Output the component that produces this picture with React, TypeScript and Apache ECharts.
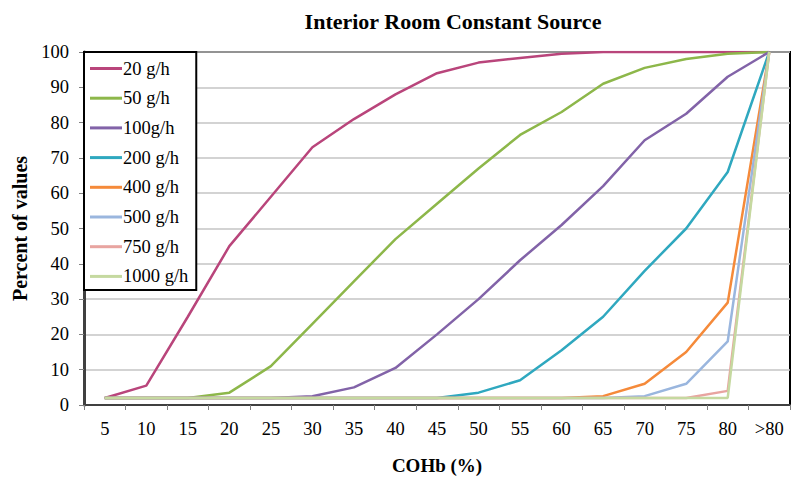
import React, { useEffect, useRef } from "react";
import * as echarts from "echarts";

const categories = ["5", "10", "15", "20", "25", "30", "35", "40", "45", "50", "55", "60", "65", "70", "75", "80", ">80"];
const seriesNames = ["20 g/h", "50 g/h", "100g/h", "200 g/h", "400 g/h", "500 g/h", "750 g/h", "1000 g/h"];
const colors = ["#B9457B", "#8DB74A", "#8263A8", "#2FA8BF", "#F58A3A", "#9AB6DE", "#E8A4A0", "#C5D9A0"];

const s20 = [2, 5.5, 25, 45, 59, 73, 81, 88, 94, 97, 98.3, 99.5, 100, 100, 100, 100, 100];
const s50 = [2, 2, 2, 3.5, 11, 23, 35, 47, 57, 67, 76.5, 83, 91, 95.5, 98, 99.5, 100];
const s100 = [2, 2, 2, 2, 2, 2.5, 5, 10.5, 20, 30, 41, 51, 62, 75, 82.5, 93, 100];
const s200 = [2, 2, 2, 2, 2, 2, 2, 2, 2, 3.5, 7, 15.5, 25, 38, 50, 66, 100];
const s400 = [2, 2, 2, 2, 2, 2, 2, 2, 2, 2, 2, 2, 2.5, 6, 15, 29, 100];
const s500 = [2, 2, 2, 2, 2, 2, 2, 2, 2, 2, 2, 2, 2, 2.5, 6, 18, 100];
const s750 = [2, 2, 2, 2, 2, 2, 2, 2, 2, 2, 2, 2, 2, 2, 2, 4, 100];
const s1000 = [2, 2, 2, 2, 2, 2, 2, 2, 2, 2, 2, 2, 2, 2, 2, 2, 100];
const allSeries = [s20, s50, s100, s200, s400, s500, s750, s1000];

const FONT = "Liberation Serif";

export default function App() {
  const ref = useRef<HTMLDivElement>(null);
  useEffect(() => {
    if (!ref.current) return;
    const chart = echarts.init(ref.current, null, { renderer: "svg" });
    chart.setOption({
      animation: false,
      backgroundColor: "#ffffff",
      title: {
        text: "Interior Room Constant Source",
        left: 448,
        textAlign: "center",
        top: 5,
        textStyle: { fontFamily: FONT, fontSize: 22, fontWeight: "bold", color: "#000" },
      },
      grid: {
        left: 84,
        right: 4,
        top: 52,
        bottom: 74,
        containLabel: false,
        outerBoundsMode: "none",
        show: true,
        borderColor: "#000",
        borderWidth: 2,
        backgroundColor: "transparent",
      },
      legend: {
        orient: "vertical",
        left: 84,
        top: 52,
        backgroundColor: "#fff",
        borderColor: "#000",
        borderWidth: 2,
        padding: [7, 8, 4, 6],
        itemGap: 10.7,
        itemWidth: 32,
        itemHeight: 3,
        icon: "rect",
        data: seriesNames,
        textStyle: { fontFamily: FONT, fontSize: 18.5, color: "#000", padding: [0, 0, 0, -4], lineHeight: 19 },
      },
      xAxis: {
        type: "category",
        data: categories,
        boundaryGap: true,
        name: "COHb (%)",
        nameLocation: "middle",
        nameGap: 51,
        nameTextStyle: { fontFamily: FONT, fontSize: 19, fontWeight: "bold", color: "#000" },
        axisLine: { lineStyle: { color: "#404040", width: 2 } },
        axisTick: { show: true, length: 5, lineStyle: { color: "#808080", width: 1 } },
        axisLabel: { fontFamily: FONT, fontSize: 18.5, color: "#000", margin: 14 },
      },
      yAxis: {
        type: "value",
        min: 0,
        max: 100,
        interval: 10,
        name: "Percent of values",
        nameLocation: "middle",
        nameGap: 54,
        nameTextStyle: { fontFamily: FONT, fontSize: 20, fontWeight: "bold", color: "#000" },
        axisLine: { show: true, lineStyle: { color: "#404040", width: 3 } },
        axisTick: { show: true, length: 5, lineStyle: { color: "#808080" } },
        axisLabel: { fontFamily: FONT, fontSize: 18.5, color: "#000", margin: 15 },
        splitLine: { show: true, lineStyle: { color: "#C4C4C4", width: 1.5 } },
      },
      series: allSeries.map((d, i) => ({
        name: seriesNames[i],
        type: "line",
        data: d,
        showSymbol: false,
        symbol: "none",
        lineStyle: { color: colors[i], width: 2.5 },
        itemStyle: { color: colors[i] },
      })),
    });
    return () => chart.dispose();
  }, []);
  return <div ref={ref} style={{ width: 794, height: 479, position: "absolute", left: 0, top: 0 }} />;
}
